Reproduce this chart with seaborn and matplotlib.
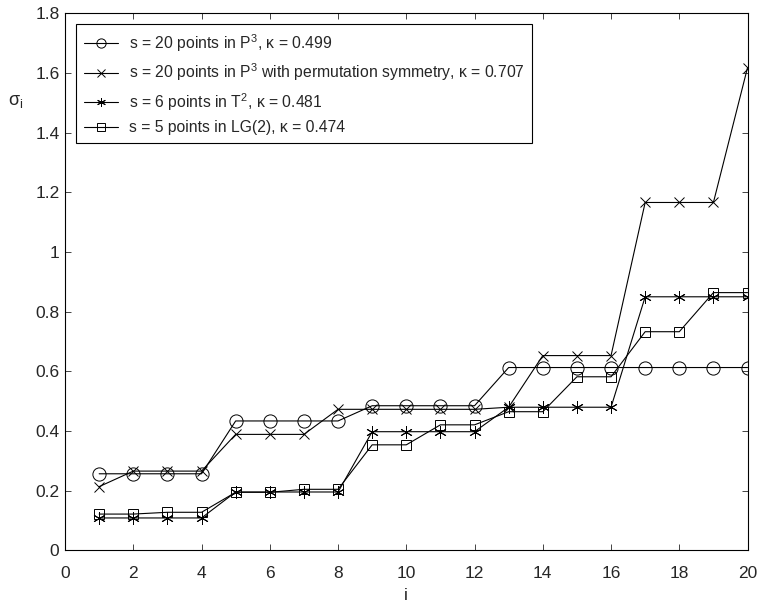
import numpy as np
import pandas as pd
import matplotlib
matplotlib.use("Agg")
import matplotlib.pyplot as plt
from matplotlib.ticker import MultipleLocator, FuncFormatter
import seaborn as sns

# datos
idx = list(range(1, 21))
p3 = [0.257, 0.257, 0.257, 0.257, 0.434, 0.434, 0.434, 0.434, 0.485, 0.485,
      0.485, 0.485, 0.613, 0.613, 0.613, 0.613, 0.613, 0.613, 0.613, 0.613]
p3_perm = [0.214, 0.266, 0.266, 0.266, 0.389, 0.389, 0.389, 0.473, 0.473, 0.473,
           0.473, 0.473, 0.480, 0.653, 0.653, 0.653, 1.166, 1.166, 1.166, 1.618]
t2 = [0.109, 0.109, 0.109, 0.109, 0.196, 0.196, 0.196, 0.196, 0.398, 0.398,
      0.398, 0.398, 0.480, 0.480, 0.480, 0.480, 0.850, 0.850, 0.850, 0.850]
lg2 = [0.122, 0.122, 0.128, 0.128, 0.195, 0.195, 0.205, 0.205, 0.354, 0.354,
       0.421, 0.421, 0.465, 0.465, 0.582, 0.582, 0.733, 0.733, 0.864, 0.864]

etiquetas = [r"s = 20 points in P$^{3}$, κ = 0.499",
             r"s = 20 points in P$^{3}$ with permutation symmetry, κ = 0.707",
             r"s = 6 points in T$^{2}$, κ = 0.481",
             r"s = 5 points in LG(2), κ = 0.474"]

sns.set_style("ticks")
plt.rcParams["font.family"] = ["Liberation Sans", "DejaVu Sans"]
plt.rcParams["mathtext.fontset"] = "custom"
plt.rcParams["mathtext.rm"] = "Liberation Sans"
plt.rcParams["mathtext.default"] = "regular"

fig = plt.figure(figsize=(7.58, 6.05), dpi=100)
ax = fig.add_axes([0.0858, 0.0901, 0.9004, 0.888])

# estilo de cada serie: marcador y tamaño
estilos = [("o", 9.5), ("x", 7.5), ((6, 2, 0), 9), ("s", 7.5)]
series = [p3, p3_perm, t2, lg2]

for valores, etiqueta, (mk, ms) in zip(series, etiquetas, estilos):
    sns.lineplot(x=idx, y=valores, ax=ax, color="black", linewidth=0.8,
                 marker=mk, markersize=ms, markerfacecolor="none",
                 markeredgecolor="black", markeredgewidth=0.7, label=etiqueta)

ax.set_xlim(0, 20)
ax.set_ylim(0, 1.8)
ax.xaxis.set_major_locator(MultipleLocator(2))
ax.yaxis.set_major_locator(MultipleLocator(0.2))
ax.yaxis.set_major_formatter(FuncFormatter(lambda v, p: "%g" % round(v, 2)))
ax.tick_params(direction="in", length=4.5, width=0.6, top=True, right=True,
               labelsize=12.5)
ax.tick_params(axis="x", pad=11)
ax.tick_params(axis="y", pad=4)
for s in ax.spines.values():
    s.set_visible(True)
    s.set_linewidth(0.8)
    s.set_color("black")

ax.set_xlabel("i", fontsize=12.5, labelpad=5)
ax.set_ylabel(r"σ$_{i}$", fontsize=13, rotation=0)
ax.yaxis.set_label_coords(-0.073, 0.82)

ley = ax.legend(loc="upper left", bbox_to_anchor=(0.0161, 0.980), borderaxespad=0,
                fontsize=11.3, frameon=True, fancybox=False, framealpha=1,
                edgecolor="black", handlelength=2.2, handletextpad=0.65,
                labelspacing=0.5, borderpad=0.5, markerscale=0.7)
ley.get_frame().set_linewidth(0.8)

fig.savefig("out.png", dpi=100)
